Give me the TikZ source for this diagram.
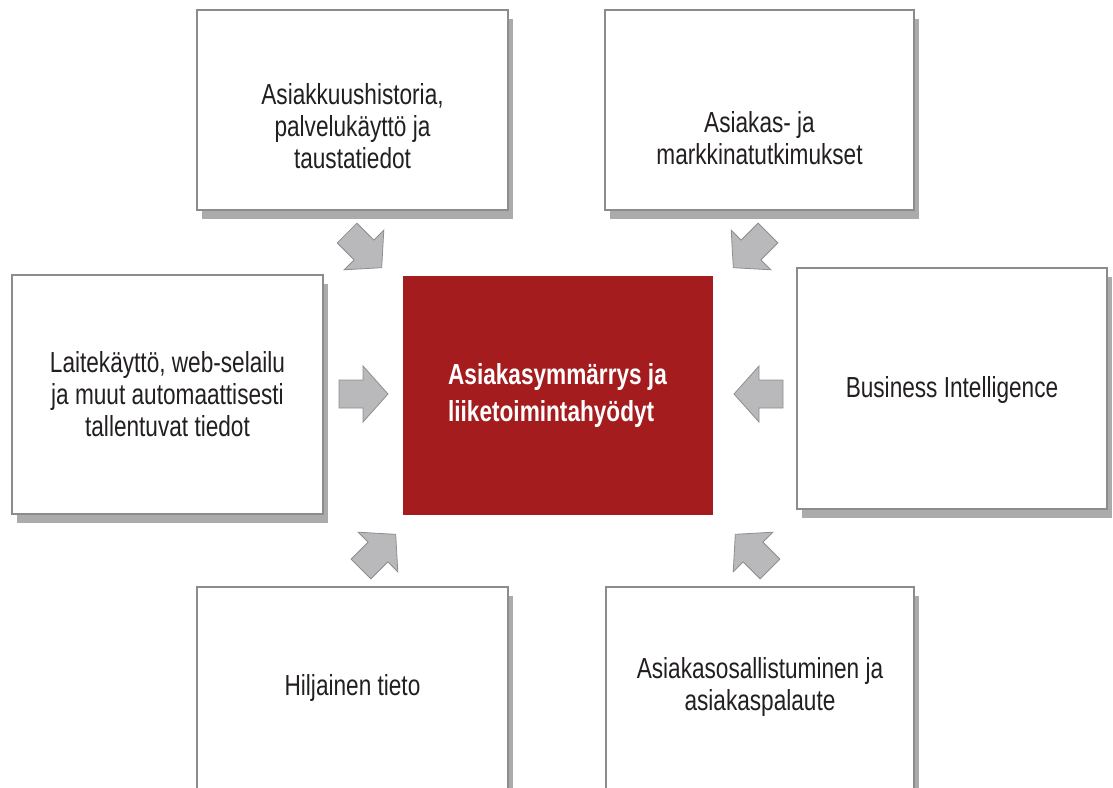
\documentclass[tikz,border=0pt]{standalone}
\usepackage{fontspec}
\setmainfont{Liberation Sans}[FakeStretch=0.78]
\usetikzlibrary{shadows}
\definecolor{boxline}{HTML}{8C8C8C}
\definecolor{shadowc}{HTML}{ABABAB}
\definecolor{arrowfill}{HTML}{B9B9BB}
\definecolor{arrowline}{HTML}{8E8E8E}
\definecolor{redbox}{HTML}{A51C1F}
\definecolor{txtc}{HTML}{231F20}
\begin{document}
\begin{tikzpicture}[x=1pt,y=-1pt,
  box/.style={draw=boxline,line width=1.5pt,fill=white,inner sep=0pt,outer sep=0pt,
    drop shadow={shadow xshift=5pt,shadow yshift=-9pt,fill=shadowc,opacity=1}},
  centerbox/.style={fill=redbox,inner sep=0pt,outer sep=0pt},
  txt/.style={align=center,text=txtc,inner sep=0pt,font=\fontsize{29}{32}\selectfont},
  ctxt/.style={align=left,text=white,inner sep=0pt,font=\fontsize{29}{37.5}\selectfont\bfseries},
  blockarrow/.style={fill=arrowfill,draw=arrowline,line width=0.8pt,line join=miter}
]
\useasboundingbox (0,0) rectangle (1113,787);
\clip (0,0) rectangle (1113,787);
\fill[white] (0,0) rectangle (1113,787);

% boxes
\node[box,minimum width=311pt,minimum height=200pt] (tl) at (352.5,110) {};
\node[box,minimum width=309pt,minimum height=200pt] (tr) at (759.5,110) {};
\node[box,minimum width=311pt,minimum height=239pt] (lb) at (167.5,394.5) {};
\node[box,minimum width=310pt,minimum height=241pt] (rb) at (952,388.5) {};
\node[box,minimum width=311pt,minimum height=220pt] (bl) at (352.5,697) {};
\node[box,minimum width=308pt,minimum height=220pt] (br) at (760,697) {};
\node[centerbox,minimum width=310pt,minimum height=239pt] (c) at (558,395.5) {};

% texts (anchor base = baseline of the last line)
\node[txt,anchor=base] (tlt) at (352.5,168) {Asiakkuushistoria,\\palvelukäyttö ja\\taustatiedot};
\node[txt,anchor=base] (trt) at (759.5,164) {Asiakas- ja\\markkinatutkimukset};
\node[txt,anchor=base] (lbt) at (167.5,436) {Laitekäyttö, web-selailu\\ja muut automaattisesti\\tallentuvat tiedot};
\node[txt,anchor=base] (rbt) at (952,397) {Business Intelligence};
\node[txt,anchor=base] (blt) at (352.5,695) {Hiljainen tieto};
\node[txt,anchor=base] (brt) at (760,710) {Asiakasosallistuminen ja\\asiakaspalaute};
\node[ctxt,anchor=base] (ct) at (557.5,421.5) {Asiakasymmärrys ja\\liiketoimintahyödyt};

% block arrows
\newcommand{\blockarr}[3]{%
  \draw[blockarrow,shift={(#1,#2)},rotate=#3]
    (-24,-14) -- (0,-14) -- (0,-28) -- (25,0) -- (0,28) -- (0,14) -- (-24,14) -- cycle;}
\blockarr{363}{394}{0}
\blockarr{759}{394}{180}
\blockarr{364}{250}{-45}
\blockarr{751}{250}{-135}
\blockarr{378}{552}{45}
\blockarr{753}{552}{135}
\end{tikzpicture}
\end{document}
